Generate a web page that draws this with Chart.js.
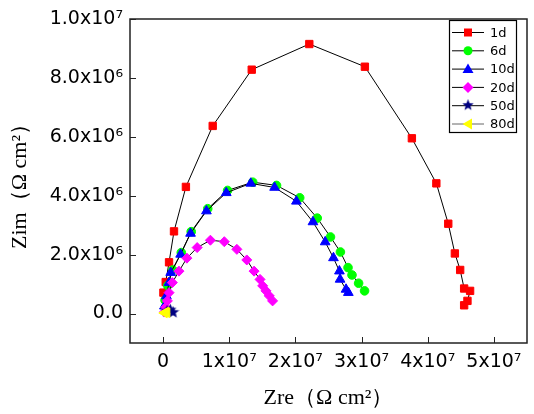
<!DOCTYPE html>
<html lang="en">
<head>
<meta charset="UTF-8">
<title>Nyquist plot</title>
<script src="https://cdn.jsdelivr.net/npm/chart.js"></script>
<style>
  html, body { margin: 0; padding: 0; background: #fff; }
  canvas { display: block; }
</style>
</head>
<body>
<canvas id="nyquist" width="534" height="414"></canvas>
<script>
// Zre / Zim, in ohm cm^2
const re1d = [0.05e6, 0.4e6, 0.9e6, 1.65e6, 3.45e6, 7.5e6, 13.4e6, 22.1e6, 30.5e6, 37.6e6, 41.3e6, 43.1e6, 44.1e6, 44.9e6, 45.5e6, 46.4e6, 46.0e6, 45.5e6];
const im1d = [0.71e6, 1.07e6, 1.74e6, 2.79e6, 4.30e6, 6.37e6, 8.28e6, 9.15e6, 8.38e6, 5.95e6, 4.42e6, 3.05e6, 2.04e6, 1.48e6, 0.85e6, 0.77e6, 0.43e6, 0.28e6];

const re6d = [0.3e6, 0.7e6, 1.45e6, 2.75e6, 4.25e6, 6.75e6, 9.75e6, 13.55e6, 17.15e6, 20.65e6, 23.3e6, 25.3e6, 26.8e6, 27.95e6, 28.55e6, 29.55e6, 30.45e6];
const im6d = [0.45e6, 0.95e6, 1.48e6, 2.07e6, 2.78e6, 3.56e6, 4.18e6, 4.46e6, 4.35e6, 3.93e6, 3.24e6, 2.60e6, 2.09e6, 1.56e6, 1.31e6, 1.03e6, 0.77e6];

const re10d = [0.2e6, 0.5e6, 0.9e6, 1.15e6, 2.65e6, 4.15e6, 6.55e6, 9.55e6, 13.25e6, 16.85e6, 20.15e6, 22.65e6, 24.5e6, 25.75e6, 26.65e6, 26.75e6, 27.65e6, 28.0e6];
const im10d = [0.25e6, 0.6e6, 1.05e6, 1.39e6, 2.01e6, 2.72e6, 3.48e6, 4.10e6, 4.42e6, 4.28e6, 3.81e6, 3.11e6, 2.43e6, 1.89e6, 1.44e6, 1.16e6, 0.82e6, 0.71e6];

const re20d = [0.2e6, 0.4e6, 0.65e6, 0.9e6, 1.4e6, 2.4e6, 3.6e6, 5.15e6, 7.15e6, 9.25e6, 11.15e6, 12.65e6, 13.75e6, 14.65e6, 15.05e6, 15.55e6, 16.05e6, 16.55e6];
const im20d = [0.05e6, 0.21e6, 0.43e6, 0.71e6, 1.05e6, 1.44e6, 1.88e6, 2.24e6, 2.49e6, 2.44e6, 2.18e6, 1.82e6, 1.44e6, 1.16e6, 0.94e6, 0.77e6, 0.60e6, 0.43e6];

const re50d = [0.6e6, 1.1e6, 1.5e6];
const im50d = [0.08e6, 0.12e6, 0.04e6];

const re80d = [0.2e6, 0.4e6, 0.6e6];
const im80d = [0.02e6, 0.05e6, 0.03e6];

const seriesNames = ['1d', '6d', '10d', '20d', '50d', '80d'];
const seriesColors = ['#ff0000', '#00ff00', '#0000ff', '#ff00ff', '#000080', '#ffff00'];

const xTicks = [0, 1e7, 2e7, 3e7, 4e7, 5e7];
const xTickLabels = ['0', '1x10⁷', '2x10⁷', '3x10⁷', '4x10⁷', '5x10⁷'];
const yTicks = [0, 2e6, 4e6, 6e6, 8e6, 1e7];
const yTickLabels = ['0.0', '2.0x10⁶', '4.0x10⁶', '6.0x10⁶', '8.0x10⁶', '1.0x10⁷'];

// filled five-point star, Chart.js only has an outline one
function makeStar(color, size) {
    const c = document.createElement('canvas');
    c.width = size; c.height = size;
    const g = c.getContext('2d');
    const r1 = size / 2, r2 = size / 4.6;
    g.fillStyle = color;
    g.beginPath();
    for (let i = 0; i < 10; i++) {
        const r = i % 2 ? r2 : r1;
        const a = -Math.PI / 2 + i * Math.PI / 5;
        g.lineTo(size / 2 + r * Math.cos(a), size / 2 + r * Math.sin(a));
    }
    g.closePath();
    g.fill();
    return c;
}
const starImg = makeStar(seriesColors[4], 13);

const pointStyles = ['rect', 'circle', 'triangle', 'rectRot', starImg, 'triangle'];
const pointRadii = [5.2, 4.3, 5.6, 5.0, 6, 5.6];
const pointRotations = [0, 0, 0, 0, 0, 270];
const lineColors = ['#000', '#000', '#000', '#000', '#000', '#666'];

function toPoints(xs, ys) {
    return xs.map((v, i) => ({ x: v, y: ys[i] }));
}
const allData = [
    toPoints(re1d, im1d), toPoints(re6d, im6d), toPoints(re10d, im10d),
    toPoints(re20d, im20d), toPoints(re50d, im50d), toPoints(re80d, im80d)
];

const datasets = seriesNames.map((name, i) => ({
    label: name,
    data: allData[i],
    showLine: true,
    borderColor: lineColors[i],
    borderWidth: 1,
    backgroundColor: seriesColors[i],
    pointBackgroundColor: seriesColors[i],
    pointBorderColor: seriesColors[i],
    pointBorderWidth: 1,
    pointStyle: pointStyles[i],
    pointRadius: pointRadii[i],
    pointRotation: pointRotations[i],
    order: seriesNames.length - i   // later series drawn on top
}));

// frame, inward tick marks and boxed legend
const framePlugin = {
    id: 'frame',
    afterDraw(chart) {
        const { ctx, chartArea: a, scales } = chart;
        ctx.save();
        ctx.strokeStyle = '#222';
        ctx.lineWidth = 1.5;
        ctx.strokeRect(a.left, a.top, a.right - a.left, a.bottom - a.top);
        ctx.beginPath();
        xTicks.forEach(v => {
            const px = Math.round(scales.x.getPixelForValue(v)) + 0.5;
            ctx.moveTo(px, a.bottom);
            ctx.lineTo(px, a.bottom - 6);
        });
        yTicks.forEach(v => {
            const py = Math.round(scales.y.getPixelForValue(v)) + 0.5;
            ctx.moveTo(a.left, py);
            ctx.lineTo(a.left + 6, py);
        });
        ctx.lineWidth = 1;
        ctx.stroke();

        // legend
        const bx = 449, by = 20, bw = 67, bh = 112;
        ctx.fillStyle = '#fff';
        ctx.fillRect(bx, by, bw, bh);
        ctx.strokeStyle = '#000';
        ctx.lineWidth = 1.2;
        ctx.strokeRect(bx + 0.5, by + 0.5, bw, bh);
        ctx.font = '13px "DejaVu Sans"';
        ctx.textBaseline = 'middle';
        seriesNames.forEach((name, i) => {
            const y = by + 12.5 + i * 18.3;
            ctx.strokeStyle = lineColors[i];
            ctx.lineWidth = 1;
            ctx.beginPath();
            ctx.moveTo(bx + 3, y);
            ctx.lineTo(bx + 35, y);
            ctx.stroke();
            const mx = bx + 19;
            const r = 4.5;
            ctx.fillStyle = seriesColors[i];
            ctx.beginPath();
            if (i === 0) {
                ctx.rect(mx - 4, y - 4, 8, 8);
            } else if (i === 1) {
                ctx.arc(mx, y, r, 0, Math.PI * 2);
            } else if (i === 2) {
                ctx.moveTo(mx, y - 5.5); ctx.lineTo(mx + 5.5, y + 4); ctx.lineTo(mx - 5.5, y + 4);
            } else if (i === 3) {
                ctx.moveTo(mx, y - 5.5); ctx.lineTo(mx + 5.5, y); ctx.lineTo(mx, y + 5.5); ctx.lineTo(mx - 5.5, y);
            } else if (i === 5) {
                ctx.moveTo(mx - 5.5, y); ctx.lineTo(mx + 4, y - 5.5); ctx.lineTo(mx + 4, y + 5.5);
            }
            ctx.closePath();
            if (i === 4) {
                ctx.drawImage(starImg, mx - 6, y - 6.5, 12, 12);
            } else {
                ctx.fill();
            }
            ctx.fillStyle = '#000';
            ctx.fillText(name, bx + 41, y + 1);
        });
        ctx.restore();
    }
};

new Chart(document.getElementById('nyquist').getContext('2d'), {
    type: 'scatter',
    data: { datasets: datasets },
    plugins: [framePlugin],
    options: {
        responsive: false,
        animation: false,
        devicePixelRatio: 1,
        layout: { padding: { top: 19, right: 6, left: 0, bottom: 0 } },
        plugins: {
            legend: { display: false },
            tooltip: { enabled: false }
        },
        scales: {
            x: {
                type: 'linear',
                min: -5e6,
                max: 5.5e7,
                afterBuildTicks: scale => { scale.ticks = xTicks.map(v => ({ value: v })); },
                afterFit: scale => { scale.height = 71; },
                grid: { display: false, drawTicks: false },
                border: { display: false },
                ticks: {
                    autoSkip: false,
                    maxRotation: 0,
                    padding: 8,
                    color: '#000',
                    font: { family: 'DejaVu Sans', size: 19 },
                    callback: v => xTickLabels[xTicks.indexOf(v)]
                },
                title: {
                    display: true,
                    text: 'Zre（Ω cm²）',
                    color: '#000',
                    font: { family: 'Liberation Serif', size: 22 },
                    padding: { top: 0, bottom: 3 }
                }
            },
            y: {
                type: 'linear',
                min: -1e6,
                max: 1e7,
                afterBuildTicks: scale => { scale.ticks = yTicks.map(v => ({ value: v })); },
                afterFit: scale => { scale.width = 130; },
                grid: { display: false, drawTicks: false },
                border: { display: false },
                ticks: {
                    autoSkip: false,
                    padding: 7,
                    color: '#000',
                    font: { family: 'DejaVu Sans', size: 19 },
                    callback: v => yTickLabels[yTicks.indexOf(v)]
                },
                title: {
                    display: true,
                    text: 'Zim（Ω cm²）',
                    color: '#000',
                    font: { family: 'Liberation Serif', size: 22 },
                    padding: { top: 7, bottom: 0 }
                }
            }
        }
    }
});
</script>
</body>
</html>
